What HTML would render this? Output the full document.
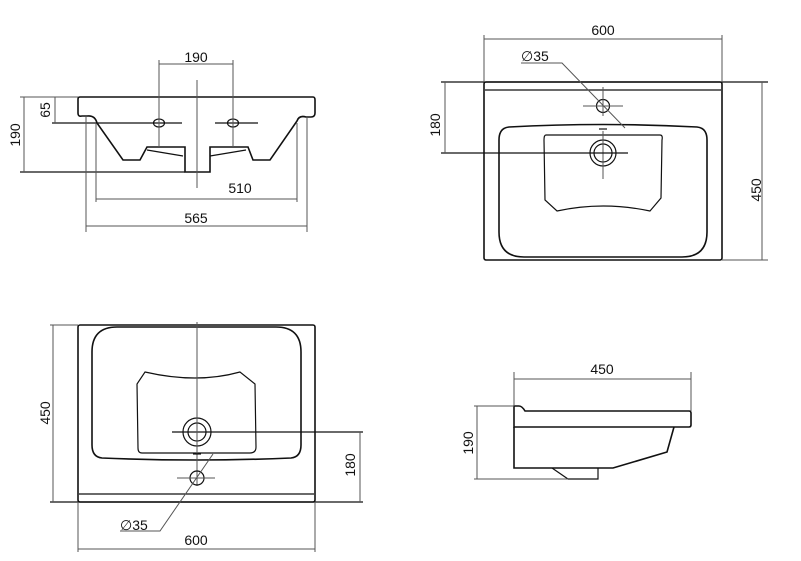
<!DOCTYPE html>
<html><head><meta charset="utf-8"><style>
html,body{margin:0;padding:0;background:#fff;}
svg{display:block;}
text{font-family:"Liberation Sans",sans-serif;font-size:14px;fill:#111;}
.o{fill:none;stroke:#111;stroke-width:1.6;}
.d{fill:none;stroke:#555;stroke-width:1;}
.k{fill:none;stroke:#111;stroke-width:1.2;}
</style></head><body>
<svg width="801" height="561" viewBox="0 0 801 561" xmlns="http://www.w3.org/2000/svg">
<path class="o" d="M80,97 H313 Q315,97 315,100 V113 Q315,117 311,117 H306 Q299,115 297,121 L270,160 H253 L248,147 H210 V172 H185 V147 H147 L140,160 H123 L97,123 Q95,115 87,116 H82 Q78,117 78,113 V99 Q78,97 80,97 Z"/>
<path class="k" d="M147,150 L183,156 M210,156 L246,150"/>
<ellipse class="k" cx="159" cy="123" rx="5.5" ry="4"/>
<ellipse class="k" cx="233" cy="123" rx="5.5" ry="4"/>
<line class="k" x1="52" y1="123" x2="182" y2="123"/>
<line class="k" x1="215" y1="123" x2="258" y2="123"/>
<line class="k" x1="20" y1="172" x2="185" y2="172"/>
<line class="d" x1="197" y1="80" x2="197" y2="188"/>
<line class="d" x1="159" y1="60" x2="159" y2="147"/>
<line class="d" x1="233" y1="60" x2="233" y2="147"/>
<line class="d" x1="159" y1="64" x2="233" y2="64"/>
<text x="196" y="62" text-anchor="middle">190</text>
<line class="d" x1="55" y1="97" x2="55" y2="123"/>
<line class="d" x1="50" y1="97" x2="78" y2="97"/>
<text transform="translate(50,110) rotate(-90)" text-anchor="middle">65</text>
<line class="d" x1="24" y1="97" x2="24" y2="172"/>
<line class="d" x1="20" y1="97" x2="50" y2="97"/>
<text transform="translate(20,135) rotate(-90)" text-anchor="middle">190</text>
<line class="d" x1="96" y1="123" x2="96" y2="202"/>
<line class="d" x1="297" y1="123" x2="297" y2="202"/>
<line class="d" x1="96" y1="199" x2="297" y2="199"/>
<text x="240" y="193" text-anchor="middle">510</text>
<line class="d" x1="86" y1="117" x2="86" y2="232"/>
<line class="d" x1="307" y1="117" x2="307" y2="232"/>
<line class="d" x1="86" y1="226" x2="307" y2="226"/>
<text x="196" y="223" text-anchor="middle">565</text>

<rect class="o" x="484" y="82" width="238" height="178" rx="2"/>
<line class="k" x1="485" y1="90" x2="721" y2="90"/>
<path class="o" d="M509,127 Q603,122 697,127 Q707,128 707,140 V232 Q707,257 682,257 H524 Q499,257 499,232 V140 Q499,128 509,127 Z"/>
<path class="k" d="M546,135 H660 Q663,135 662,140 L661,198 L650,211 Q603,201 557,211 L545,200 L544,140 Q544,135 546,135 Z"/>
<circle class="k" cx="603" cy="153" r="13"/>
<circle class="k" cx="603" cy="153" r="9"/>
<line class="d" x1="603" y1="131" x2="603" y2="179"/>
<line class="k" x1="599" y1="129" x2="607" y2="129"/>
<circle class="k" cx="603" cy="106" r="6.5"/>
<line class="d" x1="583" y1="106" x2="623" y2="106"/>
<line class="d" x1="603" y1="87" x2="603" y2="116"/>
<line class="k" x1="441" y1="82" x2="768" y2="82"/>
<line class="k" x1="441" y1="153" x2="628" y2="153"/>
<line class="d" x1="445" y1="82" x2="445" y2="153"/>
<text transform="translate(440,125) rotate(-90)" text-anchor="middle">180</text>
<line class="d" x1="484" y1="35" x2="484" y2="82"/>
<line class="d" x1="722" y1="35" x2="722" y2="82"/>
<line class="d" x1="484" y1="39" x2="722" y2="39"/>
<text x="603" y="35" text-anchor="middle">600</text>
<line class="d" x1="722" y1="260" x2="768" y2="260"/>
<line class="d" x1="762" y1="82" x2="762" y2="260"/>
<text transform="translate(761,190) rotate(-90)" text-anchor="middle">450</text>
<text x="521" y="61">∅35</text>
<path class="d" d="M521,63 H562 L625,128"/>

<rect class="o" x="78" y="325" width="237" height="177" rx="2"/>
<line class="k" x1="79" y1="494" x2="314" y2="494"/>
<path class="o" d="M117,327 H276 Q301,327 301,352 V445 Q301,457 291,458 Q197,462 102,458 Q92,457 92,445 V352 Q92,327 117,327 Z"/>
<path class="k" d="M145,372 Q197,384 240,372 L255,384 L256,447 Q256,453 250,453 H142 Q138,453 138,448 L137,384 Z"/>
<circle class="k" cx="197" cy="432" r="14"/>
<circle class="k" cx="197" cy="432" r="9"/>
<line class="k" x1="172" y1="432" x2="363" y2="432"/>
<line class="d" x1="197" y1="322" x2="197" y2="486"/>
<line class="k" x1="193" y1="454" x2="201" y2="454"/>
<circle class="k" cx="197" cy="478" r="7"/>
<line class="d" x1="177" y1="478" x2="215" y2="478"/>
<line class="k" x1="50" y1="502" x2="363" y2="502"/>
<line class="d" x1="50" y1="325" x2="78" y2="325"/>
<line class="d" x1="53" y1="325" x2="53" y2="502"/>
<text transform="translate(50,413) rotate(-90)" text-anchor="middle">450</text>
<line class="d" x1="360" y1="432" x2="360" y2="502"/>
<text transform="translate(355,465) rotate(-90)" text-anchor="middle">180</text>
<line class="d" x1="78" y1="502" x2="78" y2="552"/>
<line class="d" x1="315" y1="502" x2="315" y2="552"/>
<line class="d" x1="78" y1="549" x2="315" y2="549"/>
<text x="196" y="545" text-anchor="middle">600</text>
<text x="120" y="530">∅35</text>
<path class="d" d="M120,531 H160 L213,454"/>

<path class="o" d="M514,406 H519 Q522,406 525,411 H689 Q691,411 691,413 V425 Q691,427 689,427 H514 Z"/>
<path class="o" d="M514,427 V468 H613 L667,452 L674,427"/>
<path class="k" d="M552,468 L568,479 H598 V468"/>
<line class="d" x1="514" y1="372" x2="514" y2="406"/>
<line class="d" x1="691" y1="372" x2="691" y2="411"/>
<line class="d" x1="514" y1="379" x2="691" y2="379"/>
<text x="602" y="374" text-anchor="middle">450</text>
<line class="d" x1="474" y1="406" x2="514" y2="406"/>
<line class="d" x1="474" y1="479" x2="568" y2="479"/>
<line class="d" x1="477" y1="406" x2="477" y2="479"/>
<text transform="translate(473,443) rotate(-90)" text-anchor="middle">190</text>
</svg>
</body></html>
